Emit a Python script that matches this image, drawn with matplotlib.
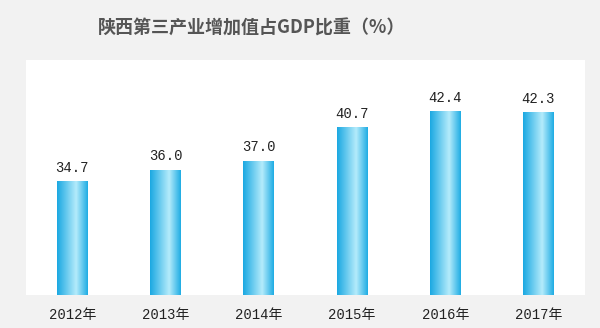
import numpy as np
import matplotlib.pyplot as plt
from matplotlib.colors import LinearSegmentedColormap

years = ['2012年', '2013年', '2014年', '2015年', '2016年', '2017年']
share = [34.7, 36.0, 37.0, 40.7, 42.4, 42.3]

plt.rcParams['font.family'] = ['Noto Sans CJK SC', 'DejaVu Sans']
mono = ['Liberation Mono', 'Noto Sans CJK SC']

fig = plt.figure(figsize=(6, 3.28), dpi=100)
fig.patch.set_facecolor('#f2f2f2')
ax = fig.add_axes([0.043, 0.10, 0.932, 0.717])
ax.set_facecolor('white')

ymin, ymax = 22.3, 48.1
ax.set_xlim(-0.5, len(years) - 0.5)
ax.set_ylim(ymin, ymax)

x = np.arange(len(years))
width = 0.33
bars = ax.bar(x, share, width=width, color='#35b8ea', zorder=2)

# horizontal shading inside each bar
cmap = LinearSegmentedColormap.from_list(
    'barshade', [(0, '#1aa8e2'), (0.62, '#b4ebfb'), (1, '#1eace4')])
grad = np.linspace(0, 1, 256).reshape(1, -1)
for b in bars:
    x0, w, h = b.get_x(), b.get_width(), b.get_height()
    ax.imshow(grad, cmap=cmap, aspect='auto', extent=[x0, x0 + w, ymin, h],
              zorder=3)
    b.set_visible(False)

ax.set_xlim(-0.5, len(years) - 0.5)
ax.set_ylim(ymin, ymax)

for xi, v in zip(x, share):
    ax.text(xi, v + 0.75, f'{v:.1f}', ha='center', va='bottom', fontsize=10,
            family=mono, color='#222222', zorder=4)

ax.set_xticks(x)
ax.set_xticklabels(years, fontsize=10, color='#222222', family=mono)
ax.tick_params(axis='x', length=0, pad=9)
ax.set_yticks([])
for s in ax.spines.values():
    s.set_visible(False)

fig.text(0.42, 0.915, '陕西第三产业增加值占GDP比重（%）', ha='center', va='center',
         fontsize=13, fontweight='bold', color='#555555')

fig.savefig('out.png', dpi=100, facecolor=fig.get_facecolor())
